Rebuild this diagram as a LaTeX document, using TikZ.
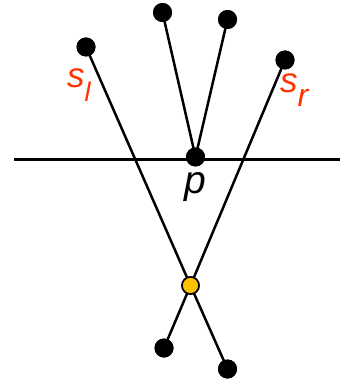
\documentclass[tikz,border=0pt]{standalone}
\usepackage{fontspec}
\setmainfont{Liberation Sans}
\definecolor{lblred}{HTML}{FF3300}
\definecolor{dotgold}{HTML}{FFC000}
\tikzset{
  blackdot/.style={circle,fill=black,inner sep=0pt,minimum size=19pt},
  golddot/.style={circle,fill=dotgold,draw=black,line width=1.6pt,inner sep=0pt,minimum size=17pt},
  ray/.style={line width=2.5pt},
  lbl/.style={inner sep=0pt,font=\fontsize{35}{35}\selectfont\itshape},
}
\begin{document}
\begin{tikzpicture}[x=1pt,y=-1pt]
\useasboundingbox (0,0) rectangle (341,379);
\coordinate (hl) at (14,160);
\coordinate (hr) at (340,160);
\draw[line width=3pt] (hl) -- (hr);
\node[blackdot] (a) at (86,47) {};
\node[blackdot] (b) at (162.5,12.5) {};
\node[blackdot] (c) at (227.5,19.5) {};
\node[blackdot] (d) at (285,60) {};
\node[blackdot] (p) at (195.5,157) {};
\node[blackdot] (e) at (164,348) {};
\node[blackdot] (f) at (227.5,369) {};
\node[golddot] (g) at (190.5,285.5) {};
\draw[ray] (b.center) -- (p.center);
\draw[ray] (c.center) -- (p.center);
\draw[ray] (a.center) -- (g.center);
\draw[ray] (d.center) -- (g.center);
\draw[ray] (g.center) -- (e.center);
\draw[ray] (g.center) -- (f.center);
\node[golddot] at (g.center) {};
\node[blackdot] at (a.center) {};
\node[blackdot] at (b.center) {};
\node[blackdot] at (c.center) {};
\node[blackdot] at (d.center) {};
\node[blackdot] at (p.center) {};
\node[blackdot] at (e.center) {};
\node[blackdot] at (f.center) {};
\node[lbl,text=lblred,anchor=base west] (sl) at (67,88) {s\raisebox{-14pt}{\fontsize{27}{27}\selectfont l}};
\node[lbl,text=lblred,anchor=base west] (sr) at (280,93) {s\raisebox{-14pt}{\fontsize{32}{32}\selectfont r}};
\node[lbl,anchor=base west,font=\fontsize{39}{39}\selectfont\itshape] (pl) at (184,193) {p};
\end{tikzpicture}
\end{document}
